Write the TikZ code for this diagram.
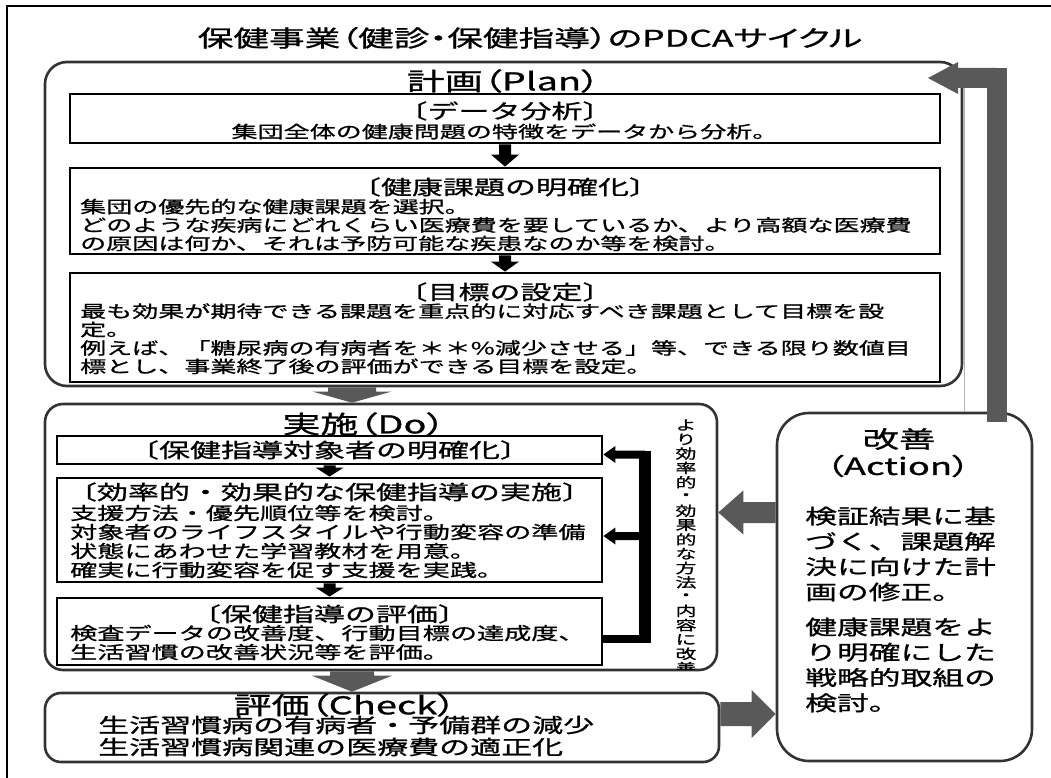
\documentclass[tikz,border=0pt]{standalone}
\usepackage{fontspec}
\usepackage{tikz}
\usetikzlibrary{calc}
\newfontfamily\jp[FakeStretch=1.55,FakeBold=1]{Noto Sans CJK JP}
\newfontfamily\jpp[FakeStretch=1.55,FakeBold=1,RawFeature=+palt]{Noto Sans CJK JP}
\definecolor{edge}{HTML}{333333}
\definecolor{grey}{HTML}{595959}
\definecolor{faint}{HTML}{B4B4B4}
\lineskiplimit=-50pt
\tikzset{
  phase/.style={draw=edge, line width=2.6pt, rounded corners=22pt, inner sep=0pt},
  innerbox/.style={draw=black, line width=2.8pt, inner sep=0pt},
  ttl/.style={font=\jpp\fontsize{24.5}{27}\selectfont, inner sep=0pt},
  hlbl/.style={font=\jp\fontsize{20}{22}\selectfont, inner sep=0pt},
  blbl/.style={font=\jp\fontsize{16.8}{18.4}\selectfont, inner sep=0pt, align=left, anchor=west},
  dlbl/.style={font=\jp\fontsize{17.5}{19}\selectfont, inner sep=0pt, align=left, anchor=west},
  clbl/.style={font=\jp\fontsize{20}{22}\selectfont, inner sep=0pt, align=left, anchor=west},
  albl/.style={font=\jp\fontsize{20.5}{25.3}\selectfont, inner sep=0pt, align=left, anchor=west},
  vlbl/.style={font=\jp\fontsize{13.5}{14.3}\selectfont, inner sep=0pt},
  fbline/.style={draw=black, line width=8pt}
}
% block arrow: colour, from, to, half shaft, half head, head length
\newcommand{\blkarrow}[6]{%
  \coordinate (hb) at ($(#3)!#6!(#2)$);
  \fill[#1] ($(#2)!#4!90:(#3)$) -- ($(hb)!#4!90:(#3)$) -- ($(hb)!#5!90:(#3)$) -- (#3)
    -- ($(hb)!#5!-90:(#3)$) -- ($(hb)!#4!-90:(#3)$) -- ($(#2)!#4!-90:(#3)$) -- cycle;}

\begin{document}
\begin{tikzpicture}[x=1pt,y=-1pt]
  \fill[white] (0,0) rectangle (1051,778);
  \useasboundingbox (0,0) rectangle (1051,778);
  \draw[line width=2pt] (7,778) -- (7,6) -- (1051,6);

  \node[ttl, font=\jpp\fontsize{23}{26}\selectfont] (title) at (530,38) {保健事業（健診・保健指導）のPDCAサイクル};

  % Plan
  \node[phase, minimum width=917pt, minimum height=324pt] (plan) at (503.5,224) {};
  \node[ttl] (planhd) at (503.5,81) {計画（Plan）};
  \node[innerbox, minimum width=870pt, minimum height=49pt] (p1) at (505,118.5) {};
  \node[innerbox, minimum width=870pt, minimum height=86pt] (p2) at (505,211) {};
  \node[innerbox, minimum width=870pt, minimum height=109pt] (p3) at (505,327.5) {};
  \node[hlbl] (p1hd) at (505,111) {〔データ分析〕};
  \node[blbl, anchor=center] (p1tx) at (505,131.5) {集団全体の健康問題の特徴をデータから分析。};
  \node[hlbl] (p2hd) at (505,187) {〔健康課題の明確化〕};
  \node[blbl] (p2tx) at (80,225) {集団の優先的な健康課題を選択。\\どのような疾病にどれくらい医療費を要しているか、より高額な医療費\\の原因は何か、それは予防可能な疾患なのか等を検討。};
  \node[hlbl] (p3hd) at (505,292) {〔目標の設定〕};
  \node[blbl] (p3tx) at (80,338.75) {最も効果が期待できる課題を重点的に対応すべき課題として目標を設\\定。\\例えば、「糖尿病の有病者を＊＊\%減少させる」等、できる限り数値目\\標とし、事業終了後の評価ができる目標を設定。};
  \blkarrow{black}{p1.south}{p2.north}{6pt}{14pt}{12pt}
  \blkarrow{black}{p2.south}{p3.north}{6pt}{14pt}{10pt}

  % Do
  \node[phase, rounded corners=18pt, minimum width=672pt, minimum height=266pt] (do) at (381,537) {};
  \node[ttl] (dohd) at (364,424) {実施（Do）};
  \node[innerbox, minimum width=545pt, minimum height=28pt] (dA) at (329.5,450) {};
  \node[innerbox, minimum width=545pt, minimum height=104pt] (dB) at (329.5,530) {};
  \node[innerbox, minimum width=545pt, minimum height=67pt] (dC) at (329.5,631.5) {};
  \node[hlbl] (dAhd) at (329.5,450) {〔保健指導対象者の明確化〕};
  \node[hlbl] (dBhd) at (329.5,492) {〔効率的・効果的な保健指導の実施〕};
  \node[dlbl] (dBtx) at (70,541.5) {支援方法・優先順位等を検討。\\対象者のライフスタイルや行動変容の準備\\状態にあわせた学習教材を用意。\\確実に行動変容を促す支援を実践。};
  \node[hlbl] (dChd) at (329.5,614) {〔保健指導の評価〕};
  \node[dlbl] (dCtx) at (70,642.5) {検査データの改善度、行動目標の達成度、\\生活習慣の改善状況等を評価。};
  \blkarrow{black}{dA.south}{dB.north}{6pt}{14pt}{9pt}
  \blkarrow{black}{dB.south}{dC.north}{6pt}{14pt}{9pt}

  \coordinate (fbx) at (645,0);
  \coordinate (fa) at ($(dA.east -| fbx)+(0,4.5)$);
  \coordinate (fat) at ($(dA.east)+(0,4.5)$);
  \coordinate (fb) at ($(dB.east -| fbx)+(0,6)$);
  \coordinate (fbt) at ($(dB.east)+(0,6)$);
  \coordinate (fc) at ($(dC.east -| fbx)+(0,7)$);
  \coordinate (fcs) at ($(dC.east)+(0,7)$);
  \draw[fbline, line width=12pt] ($(fa)+(0,-4)$) -- ($(fc)+(0,4)$);
  \draw[fbline] (fcs) -- (fc);
  \blkarrow{black}{fa}{fat}{4pt}{8.5pt}{12pt}
  \blkarrow{black}{fb}{fbt}{4pt}{8.5pt}{12pt}
  \begin{scope}
    \clip (660,406) rectangle (712,669);
    \foreach \ch [count=\i] in {よ,り,効,率,的,・,効,果,的,な,方,法,・,内,容,に,改,善}
      \node[vlbl] (v\i) at (686,{410.7+14.3*\i}) {\ch};
  \end{scope}

  % Check
  \node[phase, rounded corners=16pt, minimum width=674pt, minimum height=69pt] (chk) at (382,727.5) {};
  \node[ttl] (chkhd) at (345,705) {評価（Check）};
  \node[clbl] (chktx) at (98,736) {生活習慣病の有病者・予備群の減少\\生活習慣病関連の医療費の適正化};

  % Action
  \node[phase, rounded corners=32pt, minimum width=255pt, minimum height=348pt] (act) at (904.5,587) {};
  \node[ttl, font=\jpp\fontsize{23.5}{26}\selectfont] (acthd) at (899,439) {改善};
  \node[ttl, font=\jpp\fontsize{23.5}{26}\selectfont] (actsub) at (898,466) {（Action）};
  \node[albl] (acttx) at (805,609.5) {検証結果に基\\づく、課題解\\決に向けた計\\画の修正。\\[9.7pt]健康課題をよ\\り明確にした\\戦略的取組の\\検討。};

  % cycle arrows
  \coordinate (gx) at (352,0);
  \coordinate (ay1) at (0,512.5);
  \coordinate (ay2) at (0,714);
  \coordinate (lx) at (997,0);
  \coordinate (ltip) at (928,78);
  \coordinate (g1a) at (plan.south -| gx);
  \coordinate (g1b) at (do.north -| gx);
  \coordinate (g2a) at (do.south -| gx);
  \coordinate (g2b) at (chk.north -| gx);
  \coordinate (g3a) at (act.west |- ay1);
  \coordinate (g3b) at (do.east |- ay1);
  \coordinate (g4a) at (chk.east |- ay2);
  \coordinate (g4b) at (act.west |- ay2);
  \coordinate (g5a) at (act.north -| lx);
  \coordinate (g5c) at (lx |- ltip);
  \blkarrow{grey}{g1a}{g1b}{24pt}{39pt}{11pt}
  \blkarrow{grey}{g2a}{g2b}{22pt}{40pt}{16pt}
  \blkarrow{grey}{g3a}{g3b}{10.5pt}{22pt}{25pt}
  \blkarrow{grey}{g4a}{g4b}{12pt}{24pt}{24pt}
  \draw[grey, line width=20pt, line cap=rect] (g5a) -- (g5c);
  \blkarrow{grey}{g5c}{ltip}{10pt}{16pt}{30pt}
  \draw[faint, line width=1pt] (964,88) -- (964,412);
\end{tikzpicture}
\end{document}
